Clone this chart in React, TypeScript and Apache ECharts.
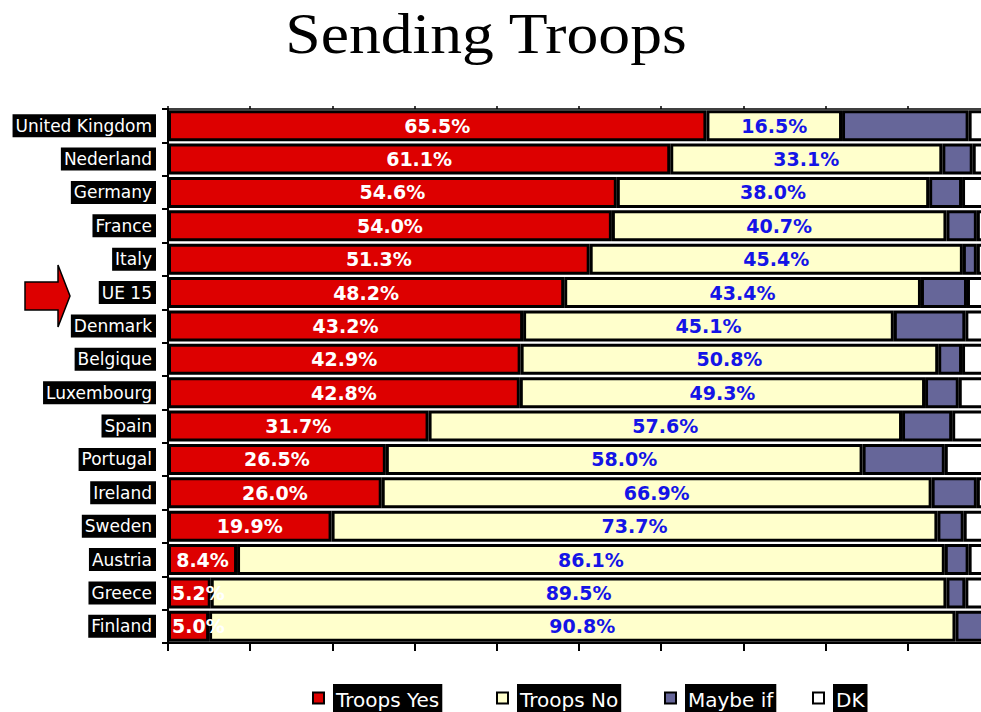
import React, { useEffect, useRef } from "react";
import * as echarts from "echarts";

const countries = [
  "United Kingdom", "Nederland", "Germany", "France", "Italy", "UE 15",
  "Denmark", "Belgique", "Luxembourg", "Spain", "Portugal", "Ireland",
  "Sweden", "Austria", "Greece", "Finland",
];
const troopsYes = [65.5, 61.1, 54.6, 54.0, 51.3, 48.2, 43.2, 42.9, 42.8, 31.7, 26.5, 26.0, 19.9, 8.4, 5.2, 5.0];
const troopsNo = [16.5, 33.1, 38.0, 40.7, 45.4, 43.4, 45.1, 50.8, 49.3, 57.6, 58.0, 66.9, 73.7, 86.1, 89.5, 90.8];
const maybeIf = [15.4, 3.7, 4.0, 3.7, 1.7, 5.6, 8.7, 2.9, 4.1, 6.1, 10.0, 5.5, 3.2, 2.9, 2.3, 3.6];
const dontKnow = [2.6, 2.1, 3.4, 1.6, 1.6, 2.8, 3.0, 3.4, 3.8, 4.6, 5.5, 1.6, 3.2, 2.6, 3.0, 0.6];
const seriesNames = ["Troops Yes", "Troops No", "Maybe if", "DK"];

const FONT = "DejaVu Sans";
const legendLefts = [312, 496, 664, 812];

export default function App() {
  const ref = useRef<HTMLDivElement>(null);
  useEffect(() => {
    if (!ref.current) return;
    const chart = echarts.init(ref.current, null, { renderer: "svg" });
    const border = { borderColor: "#000", borderWidth: 3 };
    const pct = (p: any) => `${Number(p.value).toFixed(1)}%`;
    const legends = seriesNames.map((name, i) => ({
      data: [name], left: legendLefts[i], top: 684, padding: 0,
      itemWidth: 11, itemHeight: 11, icon: "rect", selectedMode: false,
      itemStyle: { borderColor: "#000", borderWidth: 2 },
      formatter: (n: string) => `{g|}{t|${n}}`,
      textStyle: {
        rich: {
          g: { width: 4 },
          t: { color: "#fff", backgroundColor: "#000", fontFamily: FONT, fontSize: 20, lineHeight: 20, padding: [6, 3, 2, 3] },
        },
      },
    }));
    const option: any = {
      animation: false,
      backgroundColor: "#fff",
      grid: { left: 168, right: -9, top: 109, bottom: 69, containLabel: false, outerBoundsMode: "none" },
      xAxis: [
        {
          type: "value", min: 0, max: 100, interval: 10, position: "bottom",
          axisLine: { show: true, lineStyle: { color: "#000", width: 2 } },
          axisTick: { show: true, length: 8, lineStyle: { color: "#000", width: 2 } },
          axisLabel: { show: false }, splitLine: { show: false },
        },
        {
          type: "value", min: 0, max: 100, interval: 10, position: "top",
          axisLine: { show: true, lineStyle: { color: "#000", width: 1.5 } },
          axisTick: { show: true, length: 3, lineStyle: { color: "#000", width: 1.5 } },
          axisLabel: { show: false }, splitLine: { show: false },
        },
      ],
      yAxis: {
        type: "category", data: countries, inverse: true,
        axisLine: { show: true, lineStyle: { color: "#000", width: 2 } },
        axisTick: { show: true, length: 6, lineStyle: { color: "#000", width: 2 } },
        axisLabel: {
          color: "#fff", backgroundColor: "#000", fontFamily: FONT, fontSize: 17,
          lineHeight: 18, padding: [3, 4, 2, 3], margin: 12,
        },
      },
      legend: legends,
      graphic: [
        {
          type: "text", x: 486, y: 34, scaleX: 1.137,
          style: { text: "Sending Troops", fontFamily: "Liberation Serif", fontSize: 56, fill: "#000", align: "center", verticalAlign: "middle" },
        },
        {
          type: "polygon",
          shape: { points: [[25, 282], [58, 282], [58, 265], [70, 296], [58, 327], [58, 310], [25, 310]] },
          style: { fill: "#dd0000", stroke: "#000", lineWidth: 1.5 },
        },
      ],
      series: [
        {
          name: seriesNames[0], type: "bar", stack: "all", barWidth: 31,
          itemStyle: { color: "#dd0000", ...border },
          label: { show: true, position: "inside", formatter: pct, color: "#fff", fontFamily: FONT, fontWeight: "bold", fontSize: 19 },
          data: troopsYes.map((v) => (v < 8 ? { value: v, label: { position: "insideLeft", distance: 4 } } : v)),
        },
        {
          name: seriesNames[1], type: "bar", stack: "all", barWidth: 31,
          itemStyle: { color: "#ffffcc", ...border },
          label: { show: true, position: "inside", formatter: pct, color: "#1414e6", fontFamily: FONT, fontWeight: "bold", fontSize: 19 },
          data: troopsNo,
        },
        {
          name: seriesNames[2], type: "bar", stack: "all", barWidth: 31,
          itemStyle: { color: "#666699", ...border },
          data: maybeIf,
        },
        {
          name: seriesNames[3], type: "bar", stack: "all", barWidth: 31,
          itemStyle: { color: "#ffffff", ...border },
          data: dontKnow,
        },
      ],
    };
    chart.setOption(option);
    return () => chart.dispose();
  }, []);
  return (
    <div
      ref={ref}
      style={{ position: "fixed", left: 0, top: 0, width: 981, height: 712, background: "#fff" }}
    />
  );
}
